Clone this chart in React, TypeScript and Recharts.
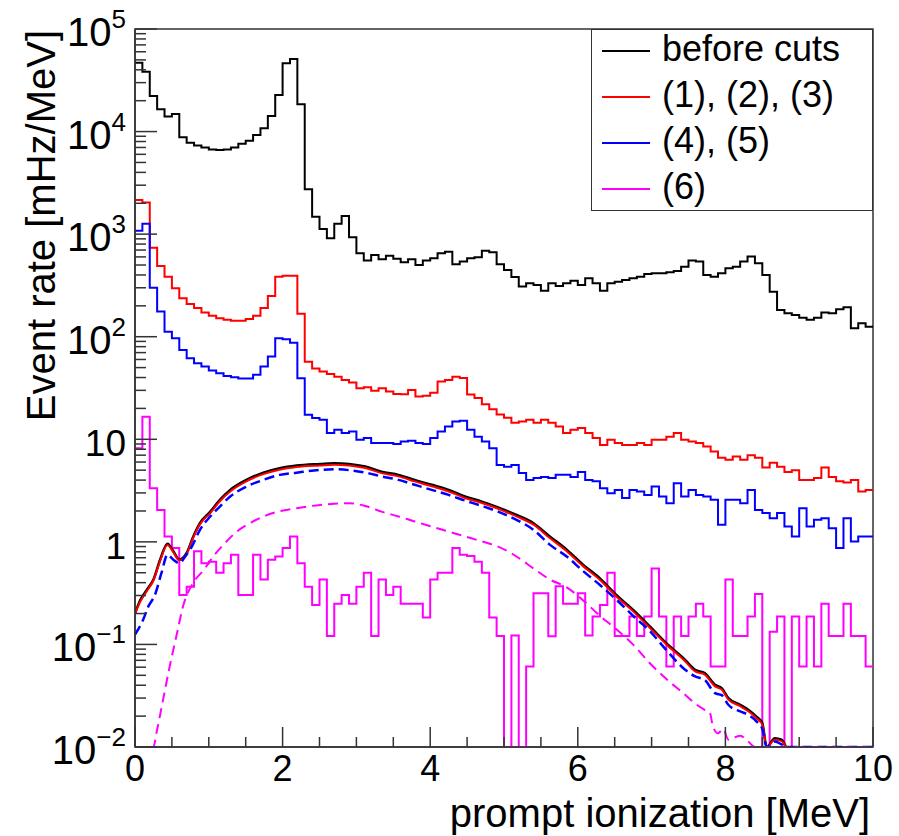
import { LineChart, Line, XAxis, YAxis, ReferenceArea } from "recharts";

const FONT = '"Liberation Sans", Arial, Helvetica, sans-serif';
const PLOT_LEFT = 135;
const PLOT_BOTTOM = 747;
const Y_MIN = 0.01;
const Y_MAX = 100000;
const BIN_WIDTH = 0.1;

// measured rates per 0.1 MeV bin, 0.0 .. 10.0 MeV
const beforeCuts = [
  47000, 38400, 22200, 16500, 14000, 14800, 8800, 7800, 7300, 7000,
  6700, 6600, 6700, 7000, 7600, 8150, 9270, 10800, 14200, 22700,
  46300, 51000, 18500, 2740, 1480, 1120, 912, 1260, 1500, 933,
  651, 552, 627, 569, 614, 577, 532, 569, 501, 552,
  582, 651, 675, 509, 540, 582, 596, 690, 667, 509,
  448, 383, 308, 332, 320, 281, 332, 313, 332, 352,
  320, 372, 332, 281, 332, 344, 358, 372, 385, 409,
  416, 416, 425, 438, 482, 552, 540, 400, 385, 416,
  466, 482, 540, 604, 520, 400, 275, 182, 169, 163,
  153, 146, 153, 172, 169, 185, 194, 121, 135, 125,
];

const cuts123 = [
  2150, 2030, 738, 490, 385, 297, 237, 209, 190, 172,
  160, 151, 146, 143, 143, 149, 160, 190, 250, 385,
  392, 392, 167, 57, 49, 45.7, 43.4, 40.8, 37.9, 35.7,
  31.5, 32.2, 29.8, 31.5, 29.2, 27.7, 27.5, 30.3, 26.1, 26.5,
  28.5, 36.5, 37.9, 40.6, 39.6, 27.4, 25.2, 21.9, 19.6, 17.4,
  16.2, 14.5, 14.9, 15.5, 14.5, 15.5, 14.5, 13.3, 11.5, 12.4,
  12.9, 11.5, 10.3, 8.8, 9.9, 9.2, 8.8, 8.8, 9.2, 8.8,
  9.9, 9.9, 10.6, 11.5, 9.9, 9.5, 9.2, 8.5, 7.6, 6.6,
  6.3, 6.8, 6.3, 7.0, 6.6, 5.3, 5.9, 5.4, 4.8, 5.0,
  4.0, 4.0, 4.2, 5.3, 4.3, 3.9, 3.8, 4.0, 3.1, 3.2,
];

const cuts45 = [
  1080, 1260, 301, 176, 112, 96.7, 74.3, 61.7, 55.2, 51.2,
  46.8, 44.1, 41.5, 40.3, 39.1, 39.1, 42.5, 51.2, 64, 96.7,
  94.6, 87.5, 39.4, 17.3, 16.1, 15.5, 11.5, 12.4, 11.5, 11.9,
  9.9, 10.3, 9.2, 9.2, 9.2, 9.0, 9.5, 9.7, 9.2, 9.0,
  10.3, 11.9, 13.3, 14.9, 15.2, 12.4, 10.6, 9.5, 8.2, 5.6,
  5.4, 5.6, 4.7, 4.0, 4.2, 4.3, 4.2, 4.5, 4.5, 4.3,
  4.8, 4.0, 3.9, 3.33, 2.98, 3.2, 2.67, 3.2, 3.1, 2.87,
  3.46, 2.77, 2.38, 3.73, 2.77, 3.2, 2.87, 2.77, 2.57, 1.47,
  2.57, 2.57, 2.38, 3.2, 2.05, 1.91, 1.7, 1.91, 1.41, 1.13,
  2.13, 1.41, 1.64, 1.7, 1.36, 0.87, 1.7, 1.01, 1.13, 1.13,
];

// empty bins are 0 and get drawn on the frame bottom
const cut6 = [
  8.2, 16.6, 3.33, 2.05, 1.13, 0.87, 0.304, 0.366, 0.81, 0.62,
  0.64, 0.5, 0.62, 0.75, 0.304, 0.304, 0.75, 0.43, 0.67, 0.72,
  0.87, 1.13, 0.62, 0.366, 0.243, 0.43, 0.121, 0.249, 0.304, 0.249,
  0.366, 0.5, 0.121, 0.43, 0.304, 0.366, 0.249, 0.249, 0.249, 0.183,
  0.43, 0.5, 0.5, 0.87, 0.75, 0.73, 0.64, 0.5, 0.183, 0.121,
  0, 0.122, 0, 0.061, 0.316, 0.316, 0.12, 0.37, 0.249, 0.249,
  0.316, 0.122, 0.187, 0.243, 0.5, 0.121, 0.121, 0.187, 0.121, 0.187,
  0.55, 0.187, 0.061, 0.187, 0.121, 0.187, 0.249, 0.187, 0.061, 0.061,
  0.43, 0.121, 0.121, 0.187, 0.31, 0, 0.133, 0.187, 0, 0.187,
  0.061, 0.187, 0.061, 0.249, 0.121, 0.121, 0.249, 0.121, 0.121, 0.061,
];

// simulated spectra (smooth curves)
const mcE = [
  0, 0.07, 0.16, 0.25, 0.34, 0.44, 0.52, 0.6, 0.7, 0.79, 0.88, 1.02, 1.15, 1.29,
  1.51, 1.74, 1.96, 2.19, 2.51, 2.7, 2.9, 3.12, 3.34, 3.57, 3.79, 4.02, 4.25,
  4.47, 4.7, 4.92, 5.17, 5.4, 5.62, 5.85, 6.07, 6.3, 6.53, 6.75, 6.98, 7.2,
  7.45, 7.59, 7.72, 7.86, 7.95, 8.04, 8.2, 8.31, 8.42, 8.5, 8.56, 8.67, 8.76, 8.82,
];
const mcBefore = [
  0.2, 0.27, 0.34, 0.43, 0.67, 0.96, 0.81, 0.67, 0.78, 1.13, 1.52, 1.97, 2.57, 3.21,
  4.02, 4.73, 5.22, 5.54, 5.75, 5.85, 5.75, 5.42, 4.84, 4.5, 4.02, 3.6, 3.21,
  2.77, 2.47, 2.17, 1.83, 1.52, 1.13, 0.84, 0.6, 0.44, 0.3, 0.217, 0.149, 0.103,
  0.071, 0.0565, 0.0525, 0.0404, 0.0375, 0.03, 0.0258, 0.0231, 0.0198, 0.0171, 0.01, 0.0122, 0.0118, 0.01,
];
const mc123 = [
  0.2, 0.26, 0.33, 0.42, 0.65, 0.93, 0.79, 0.66, 0.76, 1.1, 1.48, 1.91, 2.49, 3.1,
  3.89, 4.57, 5.05, 5.36, 5.56, 5.66, 5.56, 5.24, 4.68, 4.35, 3.89, 3.48, 3.1,
  2.68, 2.39, 2.1, 1.77, 1.47, 1.09, 0.81, 0.58, 0.425, 0.29, 0.21, 0.144, 0.1,
  0.069, 0.0546, 0.0508, 0.039, 0.0363, 0.029, 0.025, 0.0223, 0.0191, 0.0165, 0.01, 0.0118, 0.0114, 0.01,
];
const mc45E = [
  0, 0.11, 0.18, 0.27, 0.36, 0.44, 0.52, 0.6, 0.68, 0.77, 0.88, 1.02, 1.15, 1.29,
  1.51, 1.74, 1.96, 2.19, 2.51, 2.7, 2.9, 3.12, 3.34, 3.57, 3.79, 4.02, 4.25,
  4.47, 4.7, 4.92, 5.17, 5.4, 5.62, 5.85, 6.07, 6.3, 6.53, 6.75, 6.98, 7.2,
  7.45, 7.59, 7.72, 7.86, 7.95, 8.04, 8.2, 8.31, 8.42, 8.5, 8.56, 8.67, 8.76, 8.82, 10,
];
const mc45 = [
  0.125, 0.174, 0.234, 0.304, 0.5, 0.75, 0.67, 0.62, 0.72, 0.9, 1.31, 1.77, 2.21, 2.77,
  3.46, 4.02, 4.5, 4.73, 5.03, 5.1, 5.0, 4.73, 4.35, 4.02, 3.6, 3.21, 2.87,
  2.53, 2.24, 1.97, 1.64, 1.31, 0.94, 0.72, 0.52, 0.38, 0.27, 0.19, 0.134, 0.088,
  0.057, 0.0487, 0.045, 0.0335, 0.032, 0.0258, 0.0222, 0.0206, 0.0178, 0.015, 0.01, 0.0113, 0.0106, 0.01, 0.01,
];
const mc6E = [
  0, 0.25, 0.29, 0.38, 0.47, 0.57, 0.65, 0.79, 0.93, 1.06, 1.2, 1.38, 1.6, 1.87,
  2.19, 2.51, 2.7, 2.9, 3.12, 3.34, 3.57, 3.79, 4.02, 4.25, 4.47, 4.7, 4.92,
  5.17, 5.4, 5.62, 5.85, 6.07, 6.3, 6.53, 6.75, 6.98, 7.2, 7.43, 7.59, 7.72,
  7.79, 7.83, 7.9, 7.97, 8.04, 8.2, 8.31, 8.4, 10,
];
const mc6 = [
  0.01, 0.01, 0.0136, 0.0288, 0.061, 0.129, 0.234, 0.4, 0.53, 0.72, 0.94, 1.26, 1.58, 1.91,
  2.13, 2.29, 2.35, 2.38, 2.24, 1.97, 1.77, 1.58, 1.41, 1.26, 1.13, 1.01, 0.9,
  0.72, 0.55, 0.43, 0.36, 0.27, 0.19, 0.139, 0.0995, 0.0652, 0.046, 0.0335, 0.0265, 0.023,
  0.0215, 0.016, 0.0136, 0.015, 0.0118, 0.0129, 0.0113, 0.01, 0.01,
];

const legendLabels = ["before cuts", "(1), (2), (3)", "(4), (5)", "(6)"];
const seriesColors = ["#000000", "#ff0000", "#0000ff", "#ff00ff"];

const xTicks = Array.from({ length: 21 }, (_, i) => i * 0.5);
const yTicks: number[] = [];
for (let e = -2; e <= 4; e++) {
  for (let m = 1; m <= 9; m++) yTicks.push(+(m * Math.pow(10, e)).toPrecision(3));
}
yTicks.push(Y_MAX);

function histPoints(values: number[]) {
  const pts = values.map((v, i) => ({ x: +(i * BIN_WIDTH).toFixed(1), y: v > 0 ? v : Y_MIN }));
  pts.push({ x: +(values.length * BIN_WIDTH).toFixed(1), y: pts[pts.length - 1].y });
  return pts;
}

function curvePoints(xs: number[], ys: number[]) {
  return xs.map((x, i) => ({ x, y: ys[i] }));
}

const XTick = (props: any) => {
  const { x, payload } = props;
  const v = payload.value as number;
  const major = Math.abs(v % 2) < 1e-9;
  return (
    <g>
      <line x1={x} x2={x} y1={PLOT_BOTTOM} y2={PLOT_BOTTOM - (major ? 20 : 10)} stroke="#333" strokeWidth={1.5} />
      {major && (
        <text x={x} y={PLOT_BOTTOM + 34} textAnchor="middle" fontSize={36} fontFamily={FONT} fill="#000">
          {v}
        </text>
      )}
    </g>
  );
};

const YTick = (props: any) => {
  const { y, payload } = props;
  const lg = Math.log10(payload.value);
  const exp = Math.round(lg);
  const major = Math.abs(lg - exp) < 1e-6;
  let label = null;
  if (major) {
    if (exp === 0 || exp === 1) {
      label = (
        <text x={126} y={y + 17} textAnchor="end" fontSize={37} fontFamily={FONT} fill="#000">
          {exp === 0 ? "1" : "10"}
        </text>
      );
    } else {
      label = (
        <text x={126} y={y + 17} textAnchor="end" fontSize={40} fontFamily={FONT} fill="#000">
          10
          <tspan dy={-18} fontSize={26}>
            {exp < 0 ? "\u2212" + -exp : String(exp)}
          </tspan>
        </text>
      );
    }
  }
  return (
    <g>
      <line x1={PLOT_LEFT} x2={PLOT_LEFT + (major ? 22 : 11)} y1={y} y2={y} stroke="#333" strokeWidth={1.5} />
      {label}
    </g>
  );
};

const XTitle = () => (
  <text x={870} y={827} textAnchor="end" fontSize={40} fontFamily={FONT} fill="#000">
    prompt ionization [MeV]
  </text>
);

const YTitle = () => (
  <text x={55} y={30} transform="rotate(-90 55 30)" textAnchor="end" fontSize={40} fontFamily={FONT} fill="#000">
    Event rate [mHz/MeV]
  </text>
);

export default function App() {
  const hists = [beforeCuts, cuts123, cuts45, cut6].map(histPoints);
  const curves = [
    { data: curvePoints(mcE, mcBefore), color: seriesColors[0], width: 2.5, dash: undefined },
    { data: curvePoints(mcE, mc123), color: seriesColors[1], width: 2, dash: undefined },
    { data: curvePoints(mc45E, mc45), color: seriesColors[2], width: 2.5, dash: "10 5" },
    { data: curvePoints(mc6E, mc6), color: seriesColors[3], width: 2, dash: "10 6" },
  ];

  return (
    <div style={{ position: "absolute", left: 0, top: 0, width: 899, height: 836, background: "#fff" }}>
      <LineChart width={899} height={836} margin={{ top: 29, right: 26, bottom: 0, left: 0 }}>
        <XAxis
          type="number"
          dataKey="x"
          domain={[0, 10]}
          ticks={xTicks}
          interval={0}
          height={89}
          tick={<XTick />}
          tickLine={false}
          axisLine={{ stroke: "#333", strokeWidth: 1.5 }}
          allowDataOverflow
          label={<XTitle />}
        />
        <YAxis
          type="number"
          dataKey="y"
          scale="log"
          domain={[Y_MIN, Y_MAX]}
          ticks={yTicks}
          interval={0}
          width={135}
          tick={<YTick />}
          tickLine={false}
          axisLine={{ stroke: "#333", strokeWidth: 1.5 }}
          allowDataOverflow
          label={<YTitle />}
        />
        <ReferenceArea x1={0} x2={10} y1={Y_MIN} y2={Y_MAX} fill="none" stroke="#333" strokeWidth={1.5} ifOverflow="visible" />
        {hists.map((d, i) => (
          <Line
            key={"h" + i}
            data={d}
            dataKey="y"
            type="stepAfter"
            stroke={seriesColors[i]}
            strokeWidth={2}
            dot={false}
            activeDot={false}
            isAnimationActive={false}
          />
        ))}
        {curves.map((c, i) => (
          <Line
            key={"c" + i}
            data={c.data}
            dataKey="y"
            type="monotone"
            stroke={c.color}
            strokeWidth={c.width}
            strokeDasharray={c.dash}
            dot={false}
            activeDot={false}
            isAnimationActive={false}
          />
        ))}
      </LineChart>
      <div
        style={{
          position: "absolute",
          left: 591,
          top: 29,
          width: 282,
          height: 182,
          border: "1.5px solid #333",
          boxSizing: "border-box",
          background: "#fff",
          fontFamily: FONT,
          fontSize: 36,
        }}
      >
        {legendLabels.map((name, i) => (
          <div
            key={name}
            style={{ position: "absolute", left: 0, top: 21 + i * 46 - 23, height: 46, display: "flex", alignItems: "center" }}
          >
            <div style={{ width: 48, height: 2, background: seriesColors[i], marginLeft: 10, marginRight: 12 }} />
            <span style={{ lineHeight: "46px", whiteSpace: "nowrap", marginTop: -4 }}>{name}</span>
          </div>
        ))}
      </div>
    </div>
  );
}
